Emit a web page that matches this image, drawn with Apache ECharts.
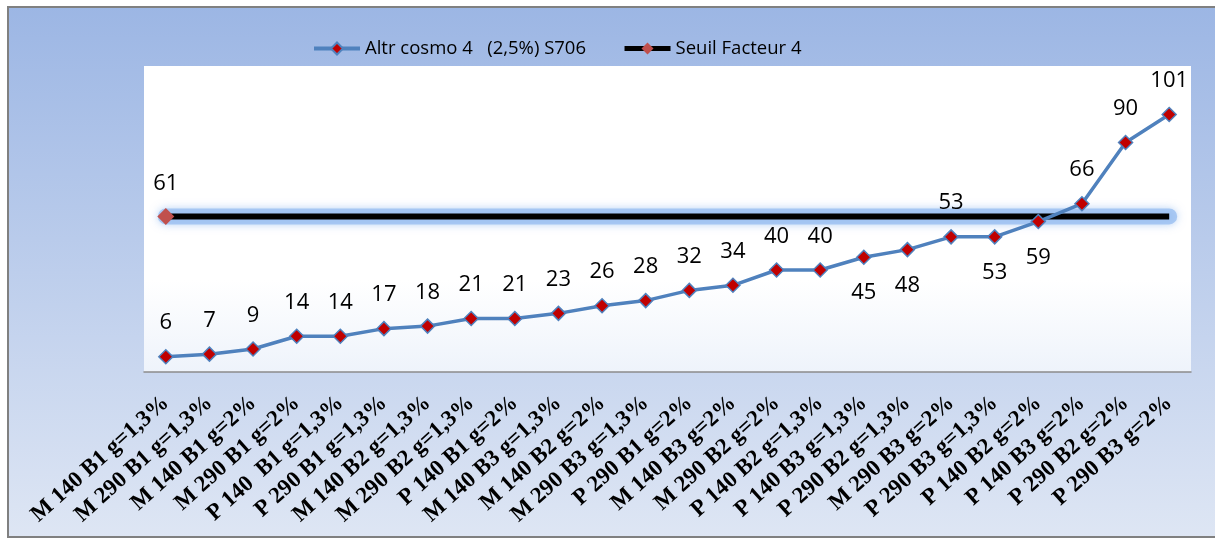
<!DOCTYPE html>
<html>
<head>
<meta charset="utf-8">
<script src="https://cdn.jsdelivr.net/npm/echarts@6/dist/echarts.min.js"></script>
<style>
html,body{margin:0;padding:0;background:#fff;}
#chart{width:1215px;height:539px;}
</style>
</head>
<body>
<div id="chart"></div>
<script>
const categories = [
  'M 140 B1 g=1,3%', 'M 290 B1 g=1,3%', 'M 140 B1 g=2%', 'M 290 B1 g=2%',
  'P 140  B1 g=1,3%', 'P 290 B1 g=1,3%', 'M 140 B2 g=1,3%', 'M 290 B2 g=1,3%',
  'P 140 B1 g=2%', 'M 140 B3 g=1,3%', 'M 140 B2 g=2%', 'M 290 B3 g=1,3%',
  'P 290 B1 g=2%', 'M 140 B3 g=2%', 'M 290 B2 g=2%', 'P 140 B2 g=1,3%',
  'P 140 B3 g=1,3%', 'P 290 B2 g=1,3%', 'M 290 B3 g=2%', 'P 290 B3 g=1,3%',
  'P 140 B2 g=2%', 'P 140 B3 g=2%', 'P 290 B2 g=2%', 'P 290 B3 g=2%'
];
const altrValues = [6, 7, 9, 14, 14, 17, 18, 21, 21, 23, 26, 28, 32, 34, 40, 40, 45, 48, 53, 53, 59, 66, 90, 101];
const seuilValues = [61, 61, 61, 61, 61, 61, 61, 61, 61, 61, 61, 61, 61, 61, 61, 61, 61, 61, 61, 61, 61, 61, 61, 61];
const seriesNames = ['Altr cosmo 4   (2,5%) S706', 'Seuil Facteur 4'];

const labelBelow = [16, 17, 19, 20];
const labelFont = {fontFamily: 'Open Sans', fontSize: 22, color: '#000'};

const altrData = altrValues.map((v, i) => ({
  value: v,
  label: labelBelow.indexOf(i) >= 0 ? {position: 'bottom', distance: 17} : {position: 'top', distance: 15}
}));
const seuilData = seuilValues.map((v, i) => ({
  value: v,
  symbolSize: i === 0 ? 17 : 0,
  label: {show: i === 0}
}));

const chart = echarts.init(document.getElementById('chart'), null, {renderer: 'canvas'});
chart.setOption({
  animation: false,
  backgroundColor: '#fff',
  graphic: [{
    type: 'rect',
    shape: {x: 8, y: 7, width: 1230, height: 530},
    style: {
      fill: new echarts.graphic.LinearGradient(0, 0, 0, 1, [
        {offset: 0, color: '#9cb6e4'},
        {offset: 1, color: '#dee6f4'}
      ]),
      stroke: '#808080',
      lineWidth: 2
    },
    z: -10,
    silent: true
  }, {
    type: 'rect',
    shape: {x: 144, y: 66, width: 1047, height: 306},
    style: {
      fill: new echarts.graphic.LinearGradient(0, 0, 0, 1, [
        {offset: 0, color: '#ffffff'},
        {offset: 0.7, color: '#ffffff'},
        {offset: 1, color: '#eef3fb'}
      ])
    },
    z: -9,
    silent: true
  }],
  legend: {
    top: 34,
    left: 307,
    itemWidth: 46,
    itemHeight: 15,
    itemGap: 36,
    textStyle: {fontFamily: 'Open Sans', fontSize: 18.5, color: '#000'},
    data: [
      {name: seriesNames[0], lineStyle: {width: 4}},
      {name: seriesNames[1], lineStyle: {width: 5}}
    ]
  },
  grid: {left: 144, right: 24, top: 66, bottom: 167, containLabel: false},
  xAxis: {
    type: 'category',
    data: categories,
    boundaryGap: true,
    axisLine: {show: true, lineStyle: {color: '#8c8c8c', width: 1.5}},
    axisTick: {show: false},
    axisLabel: {
      interval: 0,
      rotate: 42,
      margin: 28,
      fontFamily: 'Liberation Serif',
      fontWeight: 'bold',
      fontSize: 23,
      color: '#000'
    },
    splitLine: {show: false}
  },
  yAxis: {
    type: 'value',
    min: 0,
    max: 120,
    show: false,
    splitLine: {show: false}
  },
  series: [{
    name: 'glow',
    type: 'line',
    data: seuilValues,
    symbol: 'none',
    silent: true,
    z: 1,
    lineStyle: {color: 'rgba(150,188,240,0.75)', width: 16, cap: 'round', shadowColor: 'rgba(150,188,240,0.9)', shadowBlur: 8},
    tooltip: {show: false}
  }, {
    name: seriesNames[0],
    type: 'line',
    data: altrData,
    symbol: 'diamond',
    symbolSize: 14,
    z: 3,
    lineStyle: {color: '#4f81bd', width: 3.5},
    itemStyle: {color: '#c00000', borderColor: '#4f81bd', borderWidth: 1.5},
    label: Object.assign({show: true}, labelFont)
  }, {
    name: seriesNames[1],
    type: 'line',
    data: seuilData,
    symbol: 'diamond',
    z: 2,
    lineStyle: {color: '#000', width: 6},
    itemStyle: {color: '#c0504d'},
    label: Object.assign({position: 'top', distance: 13}, labelFont)
  }]
});
</script>
</body>
</html>
